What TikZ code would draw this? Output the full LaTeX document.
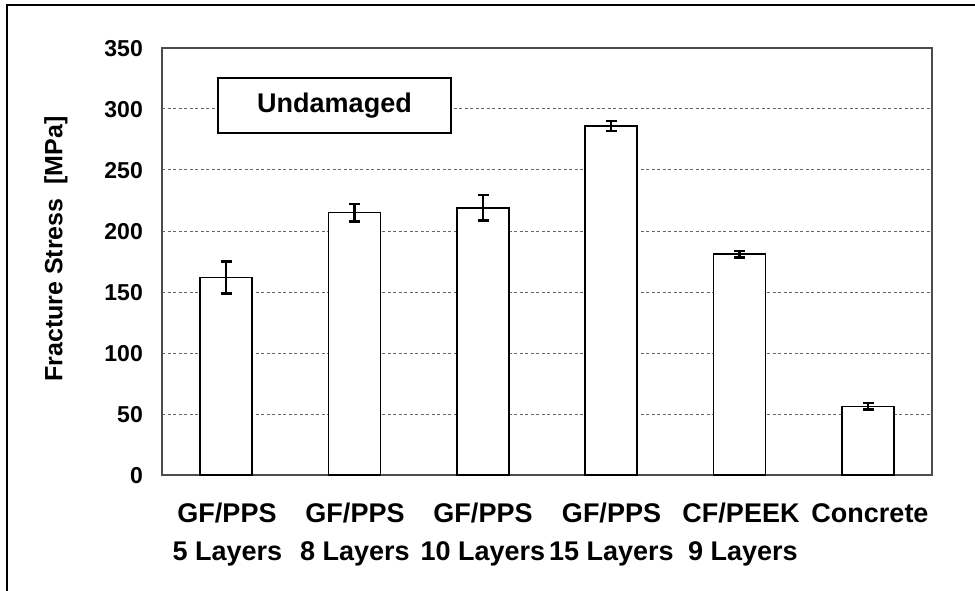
\documentclass[tikz,border=0pt]{standalone}
\usepackage{fontspec}
\setmainfont{Liberation Sans}
\begin{document}
\begin{tikzpicture}[x=1pt,y=-1pt,
  grid/.style={draw=gray!80!black,dash pattern=on 3pt off 2.5pt,line width=1pt},
  bar/.style={draw=black,fill=white,line width=1.5pt},
  err/.style={draw=black,line width=2.6pt},
  tick/.style={anchor=base east,inner sep=0pt,font=\fontsize{23}{27}\selectfont\bfseries},
  cat/.style={anchor=base,inner sep=0pt,font=\fontsize{27}{32}\selectfont\bfseries},
  legendbox/.style={draw=black,fill=white,line width=1.5pt,inner sep=0pt,minimum width=233pt,minimum height=55pt,font=\fontsize{27}{32}\selectfont\bfseries},
  ytitle/.style={rotate=90,inner sep=0pt,font=\fontsize{25}{30}\selectfont\bfseries}]
\useasboundingbox (0,0) rectangle (975,591);
\fill[white] (0,0) rectangle (975,591);
% outer frame
\draw[line width=2pt,black] (7,600) -- (7,5) -- (985,5);
% gridlines
\foreach \v in {50,100,...,300}{
  \draw[grid] (162,{475-1.22*\v}) -- (932,{475-1.22*\v});
}
% plot frame
\draw[draw=black!70,line width=1.6pt] (162,48) rectangle (932,475);
% tick labels
\foreach \v in {0,50,...,350}{
  \node[tick] (t\v) at (143,{475-1.22*\v+8.3}) {\v};
}
% bars
\foreach \c/\val/\lo/\hi/\n in {226/162/149/175/1, 354.5/215/208/222/2, 483/219/208.5/229.5/3, 611/286/282/290/4, 739.5/181/178.5/183.5/5, 868/56/53.5/59/6}{
  \draw[bar] (\c-26,475) rectangle (\c+26,{475-1.22*\val});
  \coordinate (lo\n) at (\c,{475-1.22*\lo});
  \coordinate (hi\n) at (\c,{475-1.22*\hi});
  \draw[err] (lo\n) -- (hi\n);
  \draw[err] ([xshift=-5.5pt]lo\n) -- ([xshift=5.5pt]lo\n);
  \draw[err] ([xshift=-5.5pt]hi\n) -- ([xshift=5.5pt]hi\n);
}
% legend
\node[legendbox] (leg) at (334.5,105.5) {Undamaged};
% category labels
\node[cat] (a1) at (227,522) {GF/PPS};
\node[cat] (a2) at (355,522) {GF/PPS};
\node[cat] (a3) at (483,522) {GF/PPS};
\node[cat] (a4) at (611.5,522) {GF/PPS};
\node[cat] (a5) at (741,522) {CF/PEEK};
\node[cat] (a6) at (870,522) {Concrete};
\node[cat] (b1) at (227.5,560) {5 Layers};
\node[cat] (b2) at (355,560) {8 Layers};
\node[cat] (b3) at (483,560) {10 Layers};
\node[cat] (b4) at (611.5,560) {15 Layers};
\node[cat] (b5) at (743,560) {9 Layers};
% y title
\node[ytitle] (yt) at (56,249) {Fracture Stress\ \ [MPa]};
\end{tikzpicture}
\end{document}
